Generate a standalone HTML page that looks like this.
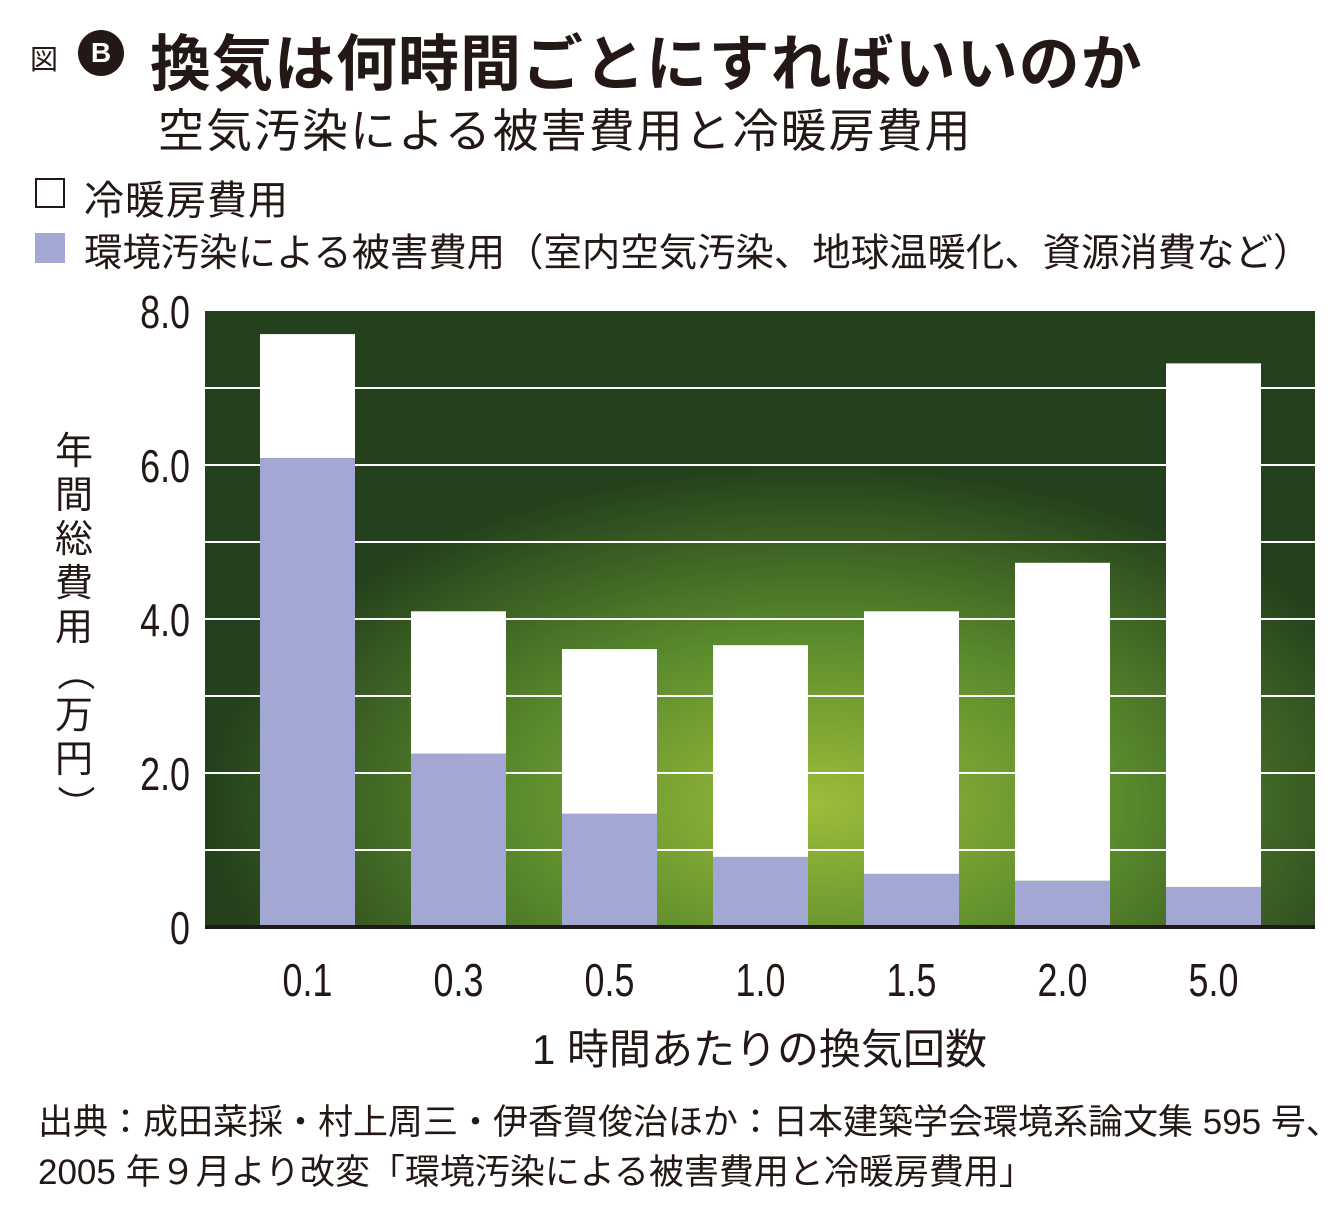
<!DOCTYPE html>
<html><head><meta charset="utf-8">
<style>
body{margin:0;background:#fff;width:1340px;height:1212px;overflow:hidden;font-family:"Liberation Sans","Noto Sans CJK JP",sans-serif;color:#231815;}
.t{position:absolute;white-space:nowrap;}
</style></head>
<body>
<div class="t" style="left:30px;top:38px;font-size:28px;">図</div>
<div style="position:absolute;left:78px;top:30px;width:46px;height:46px;border-radius:50%;background:#231815;color:#fff;font-size:28px;font-weight:bold;text-align:center;line-height:46px;">B</div>
<div class="t" style="left:150px;top:14px;font-size:61px;font-weight:bold;letter-spacing:1px;">換気は何時間ごとにすればいいのか</div>
<div class="t" style="left:158px;top:95px;font-size:46px;letter-spacing:2px;">空気汚染による被害費用と冷暖房費用</div>
<div style="position:absolute;left:35px;top:178px;width:30px;height:30px;border:2px solid #231815;box-sizing:border-box;"></div>
<div class="t" style="left:84px;top:168px;font-size:40px;letter-spacing:1px;">冷暖房費用</div>
<div style="position:absolute;left:35px;top:233px;width:30px;height:30px;background:#a2a8d3;"></div>
<div class="t" style="left:84px;top:222px;font-size:38.4px;">環境汚染による被害費用（室内空気汚染、地球温暖化、資源消費など）</div>
<div class="t" style="left:52px;top:430px;font-size:38px;line-height:44px;width:44px;white-space:normal;text-align:center;">年間総費用<br><span style="display:inline-block;transform:rotate(90deg)">（</span>万円<span style="display:inline-block;transform:rotate(90deg)">）</span></div>
<svg id="chart" style="position:absolute;left:0;top:0" width="1340" height="1212">
<defs>
<radialGradient id="g1" cx="0.55" cy="0.8" r="0.55"><stop offset="0" stop-color="#9cbd3a"/><stop offset="0.5" stop-color="#5a8a2c"/><stop offset="1" stop-color="#24401c"/></radialGradient>
</defs>
<rect x="205" y="311" width="1110" height="616" fill="url(#g1)"/>
<g id="grid"></g><g id="bars"></g><g id="axes"></g>
</svg>
<div class="t" style="left:532px;top:1016px;font-size:42px;">1 時間あたりの換気回数</div>
<div class="t" style="left:38px;top:1098px;font-size:35px;line-height:50px;">出典：成田菜採・村上周三・伊香賀俊治ほか：日本建築学会環境系論文集 595 号、<br>2005 年９月より改変「環境汚染による被害費用と冷暖房費用」</div>
<script>
const categories=["0.1","0.3","0.5","1.0","1.5","2.0","5.0"];
const totalValues=[7.70,4.10,3.61,3.66,4.10,4.73,7.32];
const damageValues=[6.09,2.25,1.47,0.91,0.69,0.60,0.52];
const yTickLabels=["0","2.0","4.0","6.0","8.0"];
const yTicks=[0,2,4,6,8];
const NS="http://www.w3.org/2000/svg";
const y0=927,unit=77,x0=260,step=151,bw=95;
const y=v=>y0-v*unit, x=i=>x0+i*step;
function mk(t,a,p){const e=document.createElementNS(NS,t);for(const k in a)e.setAttribute(k,a[k]);p.appendChild(e);return e;}
const grid=document.getElementById('grid'),bars=document.getElementById('bars'),axes=document.getElementById('axes');
for(let v=1;v<=7;v++){const l=mk('line',{x1:205,x2:1315,y1:y(v),y2:y(v),stroke:'#fff','stroke-width':2},grid);

}
categories.forEach((c,i)=>{
const w=mk('rect',{x:x(i),y:y(totalValues[i]),width:bw,height:(totalValues[i]-damageValues[i])*unit,fill:'#fff'},bars);


const b=mk('rect',{x:x(i),y:y(damageValues[i]),width:bw,height:damageValues[i]*unit,fill:'#a2a8d3'},bars);


const cx=x(i)+bw/2;
const t=mk('text',{x:0,y:0,'text-anchor':'middle','font-size':46,fill:'#231815',transform:`translate(${cx},996) scale(0.78,1)`},axes);
t.textContent=c;


});
yTicks.forEach((v,i)=>{const t=mk('text',{x:0,y:0,'text-anchor':'end','font-size':46,fill:'#231815',transform:`translate(190,${y(v)+17}) scale(0.78,1)`},axes);
t.textContent=yTickLabels[i];

});
const ax=mk('line',{x1:205,x2:1315,y1:y0,y2:y0,stroke:'#231815','stroke-width':4},axes);


</script>
</body></html>
